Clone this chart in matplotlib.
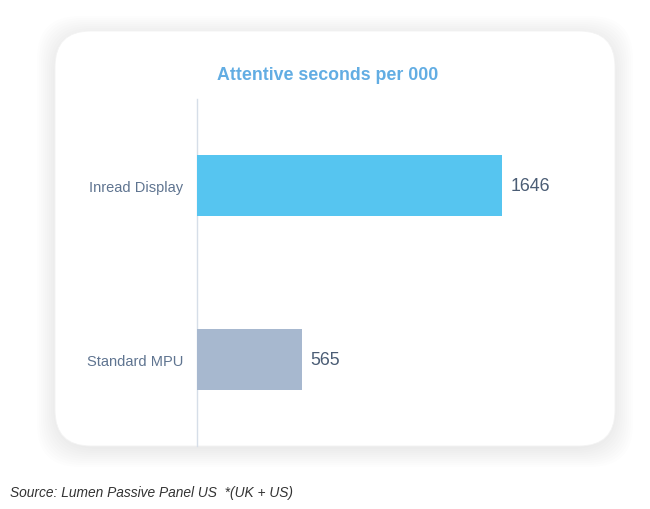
import matplotlib.pyplot as plt
from matplotlib.patches import FancyBboxPatch

categories = ["Standard MPU", "Inread Display"]
values = [565, 1646]
bar_colors = ["#a7b8cf", "#56c5f0"]
title = "Attentive seconds per 000"
source = "Source: Lumen Passive Panel US  *(UK + US)"

plt.rcParams["font.family"] = ["Liberation Sans", "DejaVu Sans"]

W, H = 650, 510
fig = plt.figure(figsize=(W / 100, H / 100), dpi=100)
fig.patch.set_facecolor("white")


def px_box(x0, y0, x1, y1):
    # pixel coords (top-left origin) -> figure fraction
    return x0 / W, 1 - y1 / H, (x1 - x0) / W, (y1 - y0) / H


# soft shadow + rounded card
cx0, cy0, cx1, cy1 = 55, 32, 615, 447
for i in range(10):
    g = 18 - 2 * i
    x, y, w, h = px_box(cx0 - g, cy0 - g + 3, cx1 + g, cy1 + g + 3)
    fig.patches.append(FancyBboxPatch(
        (x, y), w, h, boxstyle="round,pad=0,rounding_size=0.065",
        transform=fig.transFigure, facecolor="black", edgecolor="none",
        alpha=0.006, mutation_aspect=W / H, zorder=0))
x, y, w, h = px_box(cx0, cy0, cx1, cy1)
fig.patches.append(FancyBboxPatch(
    (x, y), w, h, boxstyle="round,pad=0,rounding_size=0.055",
    transform=fig.transFigure, facecolor="white", edgecolor="#f3f3f3",
    linewidth=0.6, mutation_aspect=W / H, zorder=1))

ax = fig.add_axes(px_box(197, 100, 600, 447))
ax.set_facecolor("none")
ax.set_zorder(2)

ypos = list(range(len(categories)))
ax.barh(ypos, values, height=0.35, color=bar_colors, zorder=3)
for yy, v in zip(ypos, values):
    ax.text(v + 45, yy, f"{v}", va="center", ha="left",
            fontsize=12.8, color="#4b5d75")

ax.set_xlim(0, 2175)
ax.set_ylim(-0.5, 1.5)
ax.set_yticks(ypos)
ax.set_yticklabels(categories, fontsize=10.5, color="#5f7490")
ax.tick_params(axis="y", length=0, pad=10)
ax.set_xticks([])
for side in ["top", "right", "bottom"]:
    ax.spines[side].set_visible(False)
ax.spines["left"].set_color("#d6dee8")
ax.spines["left"].set_linewidth(1.0)

fig.text(328 / W, 1 - 76 / H, title, ha="center", va="center",
         fontsize=12.8, fontweight="bold", color="#62ade3")
fig.text(10 / W, 1 - 493 / H, source, ha="left", va="center",
         fontsize=9.9, style="italic", color="#333333")

fig.savefig("out.png", dpi=100)
